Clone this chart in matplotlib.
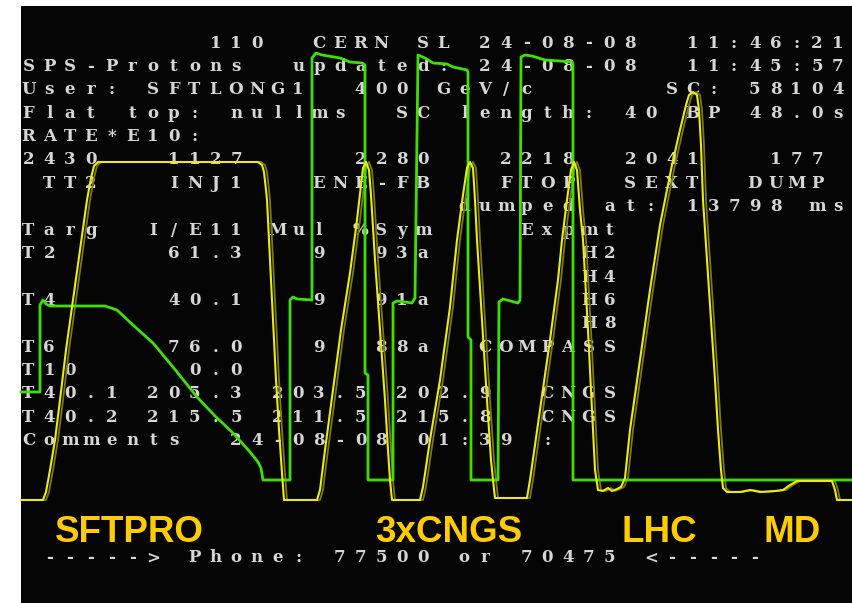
import matplotlib
matplotlib.use("Agg")
import matplotlib.pyplot as plt
from matplotlib.patches import Rectangle

W, H = 852, 603

# ---- screen text: (row, [(column, token), ...]) ----
screen_rows = [
    (0,  [(9, "110"), (14, "CERN"), (19, "SL"), (22, "24-08-08"), (32, "11:46:21")]),
    (1,  [(0, "SPS-Protons"), (13, "updated:"), (22, "24-08-08"), (32, "11:45:57")]),
    (2,  [(0, "User:"), (6, "SFTLONG1"), (16, "400"), (20, "GeV/c"), (31, "SC:"), (35, "58104")]),
    (3,  [(0, "Flat"), (5, "top:"), (10, "nullms"), (18, "SC"), (21, "length:"), (29, "40"), (32, "BP"), (35, "48.0s")]),
    (4,  [(0, "RATE*E10:")]),
    (5,  [(0, "2430"), (7, "1127"), (16, "2280"), (23, "2218"), (29, "2041"), (36, "177")]),
    (6,  [(1, "TT2"), (7, "INJ1"), (14, "ENE-FB"), (23, "FTOP"), (29, "SEXT"), (35, "DUMP")]),
    (7,  [(21, "dumped"), (28, "at:"), (32, "13798"), (38, "ms")]),
    (8,  [(0, "Targ"), (6, "I/E11"), (12, "Mul"), (16, "%Sym"), (24, "Expmt")]),
    (9,  [(0, "T2"), (7, "61.3"), (14, "9"), (17, "93a"), (27, "H2")]),
    (10, [(27, "H4")]),
    (11, [(0, "T4"), (7, "40.1"), (14, "9"), (17, "91a"), (27, "H6")]),
    (12, [(27, "H8")]),
    (13, [(0, "T6"), (7, "76.0"), (14, "9"), (17, "88a"), (22, "COMPASS")]),
    (14, [(0, "T10"), (8, "0.0")]),
    (15, [(0, "T40.1"), (6, "205.3"), (12, "203.5"), (18, "202.9"), (25, "CNGS")]),
    (16, [(0, "T40.2"), (6, "215.5"), (12, "211.5"), (18, "215.8"), (25, "CNGS")]),
    (17, [(0, "Comments"), (10, "24-08-08"), (19, "01:39"), (25, ":")]),
    (22, [(1, "----->"), (8, "Phone:"), (15, "77500"), (21, "or"), (24, "70475"), (30, "<-----")]),
]

# ---- beam intensity trace (yellow), screen coordinates ----
yellow_x = [21, 43, 46, 50, 55, 60, 66, 73, 80, 87, 91, 94, 98, 258, 262, 264, 266, 267,
            270, 273, 276, 279, 282, 284, 317, 320, 325, 333, 341, 350, 357, 361, 363, 366,
            369, 371, 375, 380, 385, 388, 390, 392, 420, 423, 430, 440, 450, 457, 463, 467,
            470, 473, 475, 477, 482, 487, 491, 493, 495, 527, 530, 540, 550, 558, 562, 567,
            571, 574, 577, 580, 583, 588, 592, 595, 598, 603, 608, 612, 617, 621, 625, 630,
            640, 650, 660, 665, 672, 680, 686, 689, 693, 697, 699, 701, 703, 707, 711, 715,
            718, 721, 723, 727, 740, 750, 760, 775, 783, 790, 797, 832, 835, 837, 852]
yellow_y = [500, 500, 492, 470, 440, 400, 350, 300, 250, 200, 178, 166, 162, 162, 165, 172, 190, 200,
            260, 320, 380, 430, 473, 500, 500, 490, 450, 390, 330, 273, 220, 185, 168, 162,
            170, 195, 260, 330, 400, 450, 480, 500, 500, 487, 440, 380, 307, 240, 195, 168,
            162, 168, 200, 240, 320, 400, 460, 480, 498, 498, 480, 410, 340, 280, 240, 200,
            170, 162, 170, 210, 240, 330, 410, 470, 490, 491, 488, 491, 489, 487, 478, 430,
            360, 290, 225, 200, 165, 130, 105, 95, 92, 95, 110, 145, 200, 260, 320, 380,
            430, 470, 488, 492, 492, 490, 492, 491, 490, 485, 481, 481, 490, 500, 500]

# ---- magnet cycle trace (green), screen coordinates ----
green_x = [21, 40, 40, 43, 46, 50, 105, 117, 133, 153, 173, 197, 215, 233, 250, 258, 261, 263,
           290, 290, 293, 297, 312, 312, 316, 322, 340, 350, 362, 365, 365, 368, 368, 393,
           393, 397, 412, 415, 418, 425, 433, 447, 453, 467, 468, 468, 471, 471, 498, 499,
           503, 518, 520, 521, 525, 532, 545, 560, 572, 573, 573, 852]
green_y = [392, 392, 305, 300, 304, 306, 306, 310, 325, 343, 367, 397, 416, 433, 452, 462, 468, 480,
           480, 300, 297, 299, 300, 58, 53, 55, 58, 62, 63, 65, 373, 375, 480, 480,
           303, 301, 303, 298, 55, 58, 63, 64, 67, 70, 72, 337, 340, 480, 480, 302,
           299, 303, 300, 57, 55, 56, 60, 61, 62, 65, 480, 480]

# ---- cycle labels ----
label_text = ["SFTPRO", "3xCNGS", "LHC", "MD"]
label_left = [55, 375, 622, 763]

# ---- layout constants ----
COL0, PITCH = 28.5, 20.75
ROW0, ROWSTEP = 47.5, 23.4

fig = plt.figure(figsize=(W / 100, H / 100), dpi=100)
fig.patch.set_facecolor("white")
ax = fig.add_axes([0, 0, 1, 1])
ax.set_xlim(0, W)
ax.set_ylim(H, 0)
ax.axis("off")
ax.add_patch(Rectangle((21, 6), W - 21, H - 6, facecolor="#050505", edgecolor="none", zorder=0))

for row, tokens in screen_rows:
    yb = ROW0 + row * ROWSTEP
    for col, tok in tokens:
        for i, ch in enumerate(tok):
            ax.text(COL0 + (col + i) * PITCH, yb, ch, ha="center", va="baseline",
                    color="#d6d6d6", fontsize=12, fontweight="bold",
                    family="DejaVu Serif", zorder=2)

ax.plot([x + 3 for x in yellow_x], yellow_y, color="#7a7a18", lw=1.3, zorder=3,
        solid_joinstyle="round")
ax.plot(green_x, green_y, color="#3ee000", lw=2.0, zorder=4, solid_joinstyle="round")
ax.plot(yellow_x, yellow_y, color="#ecec10", lw=1.5, zorder=5, solid_joinstyle="round")

for t, xl in zip(label_text, label_left):
    ax.text(xl, 542, t, ha="left", va="baseline", color="#ffcc00", fontsize=26.5,
            fontweight="bold", family="Liberation Sans", zorder=6)

fig.savefig("out.png", dpi=100, facecolor="white")
